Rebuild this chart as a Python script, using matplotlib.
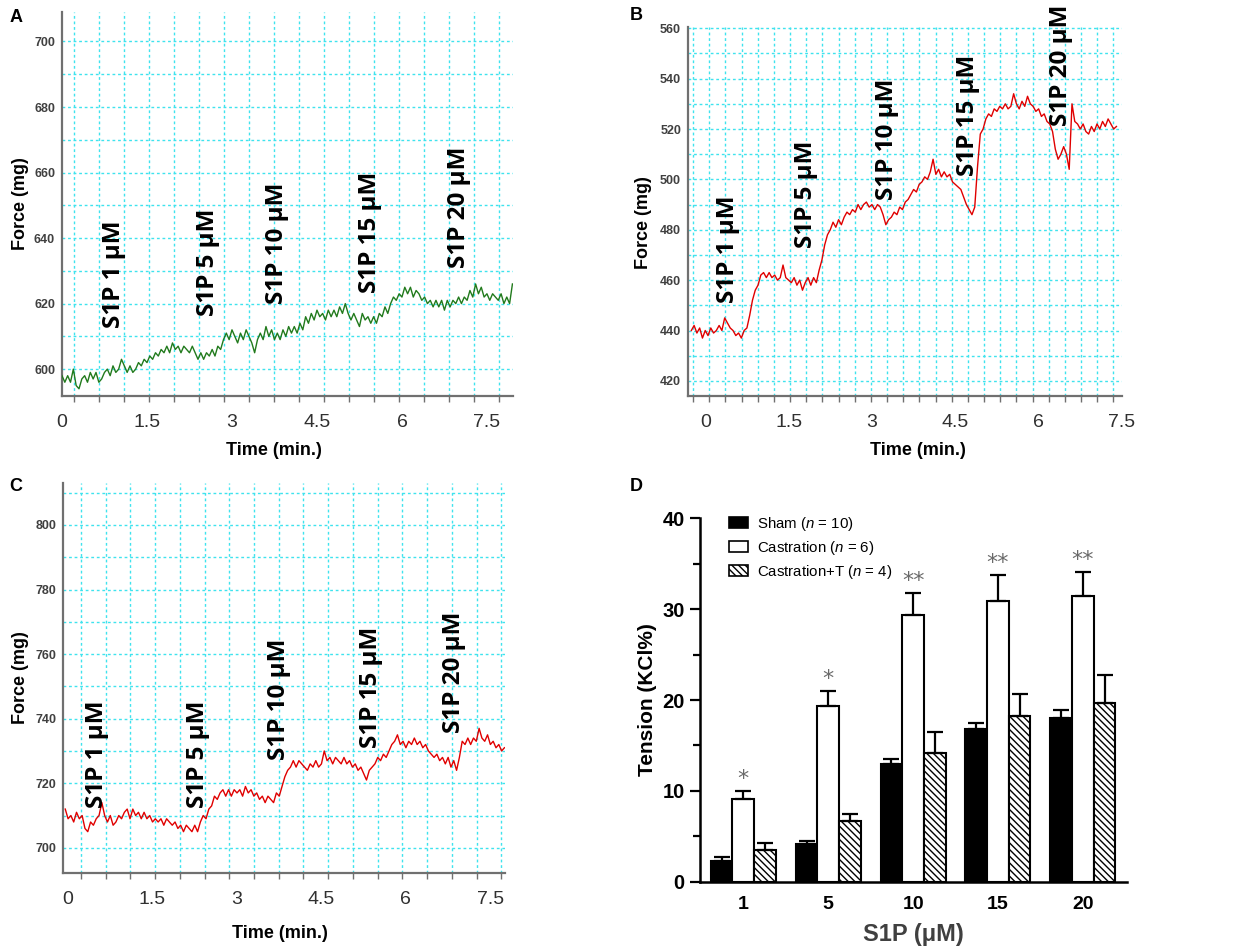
import numpy as np
import matplotlib
matplotlib.use("Agg")
import matplotlib.pyplot as plt
from matplotlib.patches import Patch

plt.rcParams['font.family'] = ['Liberation Sans', 'DejaVu Sans']
plt.rcParams['mathtext.fontset'] = 'custom'
plt.rcParams['mathtext.it'] = 'Liberation Sans:italic'
plt.rcParams['mathtext.rm'] = 'Liberation Sans'
plt.rcParams['hatch.linewidth'] = 1.0

# ---------------- data ----------------
ann_labels = ['S1P 1 μM', 'S1P 5 μM', 'S1P 10 μM', 'S1P 15 μM', 'S1P 20 μM']

# Panel A (green trace)
A_t0, A_dt = 0.0, 0.05
A_force = [598, 596, 598, 596, 600, 595, 594, 597, 598, 596,
           599, 597, 599, 596, 597, 599, 600, 598, 601, 599,
           600, 603, 601, 599, 601, 599, 600, 602, 601, 603,
           602, 604, 603, 605, 604, 606, 605, 607, 605, 608,
           606, 607, 605, 607, 606, 605, 607, 605, 603, 605,
           603, 605, 604, 606, 604, 607, 606, 609, 611, 609,
           612, 610, 608, 611, 609, 612, 610, 608, 605, 609,
           611, 609, 613, 610, 612, 609, 611, 609, 612, 610,
           613, 611, 613, 611, 614, 612, 616, 614, 617, 615,
           618, 616, 617, 615, 618, 616, 618, 616, 619, 617,
           620, 617, 615, 617, 615, 613, 617, 615, 616, 614,
           616, 614, 617, 616, 619, 617, 620, 622, 621, 623,
           622, 625, 623, 625, 622, 624, 623, 621, 622, 620,
           621, 619, 621, 619, 621, 618, 621, 619, 621, 620,
           622, 620, 622, 621, 624, 622, 626, 623, 625, 622,
           623, 621, 623, 622, 621, 623, 620, 622, 620, 626]
A_ann_t = [0.92, 2.57, 3.79, 5.44, 7.01]
A_ann_y = [612.6, 616.3, 619.9, 623.3, 630.9]

# Panel B (red trace)
B_t0, B_dt = -0.25, 0.05
B_force = [440, 442, 439, 441, 437, 440, 438, 441, 439, 440,
           442, 440, 445, 443, 441, 440, 438, 439, 437, 440,
           441, 446, 452, 456, 458, 462, 463, 461, 463, 461,
           462, 460, 461, 466, 461, 460, 459, 461, 458, 460,
           456, 459, 461, 458, 461, 459, 464, 468, 474, 478,
           480, 483, 481, 484, 482, 485, 487, 486, 488, 487,
           490, 488, 490, 491, 489, 490, 488, 490, 489, 486,
           482, 484, 485, 487, 486, 489, 488, 491, 492, 494,
           496, 495, 498, 499, 501, 500, 503, 508, 502, 504,
           501, 503, 501, 502, 499, 498, 497, 496, 493, 490,
           488, 486, 489, 505, 518, 520, 524, 526, 525, 528,
           527, 529, 528, 530, 528, 529, 534, 530, 528, 531,
           529, 533, 530, 529, 527, 528, 525, 526, 523, 522,
           519, 512, 508, 510, 513, 510, 504, 530, 523, 522,
           520, 522, 519, 518, 521, 519, 522, 520, 523, 521,
           524, 522, 520, 521]
B_ann_t = [0.41, 1.82, 3.27, 4.73, 6.41]
B_ann_y = [451.0, 472.9, 491.9, 501.5, 521.3]

# Panel C (red trace)
C_t0, C_dt = -0.05, 0.05
C_force = [712, 709, 710, 708, 711, 709, 710, 706, 705, 708,
           707, 709, 710, 714, 710, 708, 710, 707, 708, 710,
           709, 711, 712, 709, 712, 710, 711, 709, 711, 709,
           710, 708, 709, 708, 709, 707, 709, 708, 707, 708,
           706, 707, 705, 707, 706, 705, 707, 705, 708, 710,
           709, 712, 713, 716, 715, 717, 718, 716, 718, 716,
           718, 717, 718, 716, 719, 717, 718, 716, 717, 715,
           716, 714, 716, 715, 714, 717, 716, 719, 722, 724,
           725, 727, 725, 727, 726, 725, 724, 726, 725, 727,
           725, 726, 730, 727, 728, 726, 728, 727, 726, 728,
           726, 727, 725, 726, 724, 725, 723, 721, 724, 725,
           726, 728, 727, 729, 728, 730, 732, 733, 735, 732,
           733, 731, 733, 732, 734, 732, 733, 731, 732, 730,
           729, 728, 729, 727, 728, 726, 728, 725, 727, 724,
           728, 733, 732, 734, 732, 734, 733, 737, 734, 733,
           735, 732, 733, 731, 732, 730, 731]
C_ann_t = [0.52, 2.31, 3.75, 5.38, 6.86]
C_ann_y = [712.3, 712.3, 727.2, 730.9, 735.6]

# Panel D (bar chart)
conc_labels = ['1', '5', '10', '15', '20']
sham = [2.3, 4.15, 13.0, 16.8, 18.0]
sham_err = [0.4, 0.3, 0.5, 0.7, 0.9]
castration = [9.1, 19.3, 29.4, 30.9, 31.5]
castration_err = [0.9, 1.7, 2.4, 2.9, 2.6]
castration_t = [3.5, 6.7, 14.2, 18.2, 19.7]
castration_t_err = [0.8, 0.8, 2.3, 2.5, 3.0]
stars = ['*', '*', '**', '**', '**']
legend_labels = ['Sham ($n$ = 10)', 'Castration ($n$ = 6)', 'Castration+T ($n$ = 4)']

# ---------------- figure ----------------
W, H = 1245, 946
fig = plt.figure(figsize=(W / 100, H / 100), dpi=100)


def px_axes(l, t, r, b):
    return fig.add_axes([l / W, 1 - b / H, (r - l) / W, (b - t) / H])


GRID_C = '#3fe3ee'
SPINE_C = '#707070'


def trace_panel(ax, t0, dt, force, color, xlim, ylim, yticks, ygrid, xgrid,
                ann_t, ann_y):
    t = t0 + dt * np.arange(len(force))
    ax.plot(t, force, color=color, lw=1.0, zorder=3)
    ax.set_xlim(*xlim)
    ax.set_ylim(*ylim)
    ax.set_xticks([0, 1.5, 3, 4.5, 6, 7.5])
    ax.set_xticklabels(['0', '1.5', '3', '4.5', '6', '7.5'])
    ax.set_yticks(yticks)
    ax.set_xticks(xgrid, minor=True)
    ax.set_yticks(ygrid, minor=True)
    ax.xaxis.remove_overlapping_locs = False
    ax.yaxis.remove_overlapping_locs = False
    ax.grid(False, which='major')
    ax.grid(True, which='minor', color=GRID_C, linestyle=(0, (2, 2)), lw=1.0)
    ax.tick_params(axis='both', which='major', length=0)
    ax.tick_params(axis='x', which='major', pad=13, labelsize=14, labelcolor='#303030')
    ax.tick_params(axis='y', which='major', pad=5, labelsize=9, labelcolor='#404040')
    for lab in ax.get_yticklabels():
        lab.set_fontweight('bold')
    ax.tick_params(axis='x', which='minor', length=4, width=1, color=SPINE_C, direction='out')
    ax.tick_params(axis='y', which='minor', length=0)
    for s in ['top', 'right']:
        ax.spines[s].set_visible(False)
    for s in ['left', 'bottom']:
        ax.spines[s].set_color(SPINE_C)
        ax.spines[s].set_linewidth(1.6)
    ax.set_ylabel('Force (mg)', fontsize=13, fontweight='bold')
    ax.set_xlabel('Time (min.)', fontsize=13, fontweight='bold')
    for lab, tx, ty in zip(ann_labels, ann_t, ann_y):
        ax.text(tx, ty, lab, rotation=90, ha='center', va='bottom',
                fontsize=17.5, fontweight='bold', family=['Open Sans', 'DejaVu Sans'],
                color='black', zorder=4)


# Panel A
axA = px_axes(62, 12, 513, 396)
trace_panel(axA, A_t0, A_dt, A_force, '#217a1c', (0.0, 7.96), (591.8, 709.0),
            np.arange(600, 701, 20), np.arange(600, 701, 10),
            np.arange(0.206, 7.96, 0.442), A_ann_t, A_ann_y)
axA.yaxis.set_label_coords(-0.073, 0.5)
axA.xaxis.set_label_coords(0.47, -0.12)

# Panel B
axB = px_axes(688, 27, 1122, 396)
trace_panel(axB, B_t0, B_dt, B_force, '#e00000', (-0.31, 7.5), (414.0, 560.5),
            np.arange(420, 561, 20), np.arange(420, 561, 10),
            np.arange(-0.22, 7.5, 0.291), B_ann_t, B_ann_y)
axB.yaxis.set_label_coords(-0.082, 0.47)
axB.xaxis.set_label_coords(0.53, -0.125)

# Panel C
axC = px_axes(63, 483, 505, 873)
trace_panel(axC, C_t0, C_dt, C_force, '#e00000', (-0.09, 7.76), (692.2, 813.0),
            np.arange(700, 801, 20), np.arange(700, 811, 10),
            np.arange(0.23, 7.76, 0.439), C_ann_t, C_ann_y)
axC.yaxis.set_label_coords(-0.077, 0.5)
axC.xaxis.set_label_coords(0.49, -0.133)

# Panel D
axD = px_axes(700, 518.3, 1127, 881.7)
x = np.arange(len(conc_labels))
w = 0.255
zeros = np.zeros(len(x))
ekw = dict(elinewidth=1.6, capthick=1.6, ecolor='black')
axD.bar(x - w, sham, w, color='black', edgecolor='black', lw=1.5,
        yerr=[zeros, sham_err], capsize=6, error_kw=ekw, zorder=2)
axD.bar(x, castration, w, color='white', edgecolor='black', lw=1.5,
        yerr=[zeros, castration_err], capsize=6, error_kw=ekw, zorder=2)
axD.bar(x + w, castration_t, w, color='white', edgecolor='black', lw=1.5,
        hatch='\\' * 5, yerr=[zeros, castration_t_err], capsize=6, error_kw=ekw, zorder=2)
for xi, v, e, s in zip(x, castration, castration_err, stars):
    axD.text(xi, v + e + 1.3, s, ha='center', va='center', fontsize=16,
             color='#6a6a6a', family='DejaVu Sans')
axD.set_xlim(-0.51, 4.52)
axD.set_ylim(0, 40)
axD.set_xticks(x)
axD.set_xticklabels(conc_labels)
axD.set_yticks([0, 10, 20, 30, 40])
axD.set_yticks([5, 15, 25, 35], minor=True)
axD.tick_params(axis='x', length=0, pad=10, labelsize=14)
axD.tick_params(axis='y', which='major', length=7, width=1.6, pad=4, labelsize=14.5)
axD.tick_params(axis='y', which='minor', length=5, width=1.6)
for lab in axD.get_xticklabels() + axD.get_yticklabels():
    lab.set_fontweight('bold')
for s in ['top', 'right']:
    axD.spines[s].set_visible(False)
for s in ['left', 'bottom']:
    axD.spines[s].set_linewidth(1.8)
axD.set_ylabel('Tension (KCl%)', fontsize=15, fontweight='bold')
axD.yaxis.set_label_coords(-0.101, 0.5)
axD.set_xlabel('S1P (μM)', fontsize=17, fontweight='bold', color='#404040')
axD.xaxis.set_label_coords(0.5, -0.113)
handles = [Patch(facecolor='black', edgecolor='black', lw=1.2),
           Patch(facecolor='white', edgecolor='black', lw=1.2),
           Patch(facecolor='white', edgecolor='black', lw=1.2, hatch='\\' * 5)]
axD.legend(handles, legend_labels, loc='upper left', bbox_to_anchor=(0.036, 1.047),
           frameon=False, handlelength=1.3, handleheight=0.75,
           handletextpad=0.6, labelspacing=0.4,
           prop={'size': 10.8})

# panel letters
for letter, (lx, ly) in zip('ABCD', [(16, 18), (636, 16), (16, 486), (636, 486)]):
    fig.text(lx / W, 1 - ly / H, letter, fontsize=13, fontweight='bold',
             ha='center', va='center')

fig.savefig('out.png', dpi=100)
